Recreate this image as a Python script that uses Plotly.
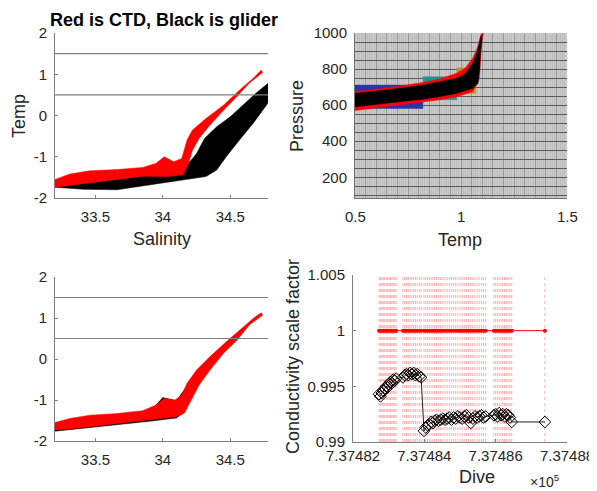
import plotly.graph_objects as go

# ---- data ----
# T-S panels: outlines of the point clouds (salinity, temp)
ctd_sal_top = [33.2, 33.31, 33.46, 33.66, 33.85, 33.95, 34.01, 34.08, 34.14, 34.18,
               34.22, 34.32, 34.45, 34.57, 34.67, 34.73,
               34.74, 34.64, 34.55, 34.45, 34.35, 34.27, 34.22, 34.19, 34.15, 34.03,
               33.85, 33.66, 33.46, 33.31, 33.2]
ctd_temp_top = [-1.55, -1.42, -1.34, -1.31, -1.26, -1.16, -1.0, -1.12, -1.04, -0.59,
                -0.35, -0.07, 0.25, 0.62, 0.90, 1.10,
                1.04, 0.78, 0.46, 0.13, -0.23, -0.55, -0.84, -1.16, -1.44, -1.48,
                -1.47, -1.55, -1.64, -1.71, -1.74]
glider_sal_top = [33.2, 33.41, 33.66, 33.9, 34.1, 34.25, 34.32, 34.40, 34.47, 34.57,
                  34.67, 34.78, 34.78, 34.69, 34.59, 34.50, 34.40, 34.31, 34.25, 34.20,
                  34.15, 34.14, 33.9, 33.66, 33.2]
glider_temp_top = [-1.74, -1.79, -1.80, -1.68, -1.58, -1.52, -1.48, -1.32, -1.0, -0.59,
                   -0.19, 0.30, 0.78, 0.54, 0.25, -0.03, -0.27, -0.55, -0.92, -1.12,
                   -1.17, -1.4, -1.43, -1.50, -1.6]

ctd_sal_bot = [33.2, 33.31, 33.46, 33.66, 33.85, 33.95, 34.01, 34.09, 34.14, 34.18,
               34.25, 34.35, 34.47, 34.60, 34.67, 34.73,
               34.74, 34.64, 34.55, 34.45, 34.35, 34.27, 34.21, 34.16, 34.10, 33.90,
               33.66, 33.46, 33.31, 33.2]
ctd_temp_bot = [-1.55, -1.45, -1.37, -1.33, -1.26, -1.12, -0.96, -1.0, -0.88, -0.59,
                -0.27, 0.06, 0.42, 0.79, 0.99, 1.13,
                1.07, 0.83, 0.46, 0.14, -0.27, -0.63, -1.0, -1.32, -1.41, -1.49,
                -1.57, -1.65, -1.71, -1.73]
glider_sal_bot = [33.2, 33.46, 33.66, 33.9, 34.0, 34.1, 34.16, 34.25, 34.35, 34.47,
                  34.6, 34.72, 34.70, 34.55, 34.45, 34.35, 34.27, 34.21, 34.16, 34.1,
                  33.9, 33.66, 33.46, 33.2]
glider_temp_bot = [-1.6, -1.45, -1.40, -1.30, -0.94, -1.02, -0.75, -0.32, 0.0, 0.38,
                   0.75, 1.08, 1.05, 0.5, 0.18, -0.22, -0.58, -0.95, -1.30, -1.44,
                   -1.52, -1.6, -1.68, -1.76]

ref_temps = [1.5, 0.5]

# Temp-pressure panel
rect_t_lo = [0.5, 0.82, 0.98]
rect_t_hi = [0.82, 0.98, 1.07]
rect_p_lo = [582, 630, 665]
rect_p_hi = [711, 757, 807]
rect_colors = ["#2d34a8", "#1f978a", "#b59a2c"]

ctd_tp_t = [0.5, 0.6, 0.7, 0.82, 0.9, 0.977, 1.02, 1.055, 1.075, 1.085, 1.092, 1.10,
            1.105, 1.098, 1.092, 1.085, 1.055, 0.977, 0.9, 0.82, 0.7, 0.6, 0.5]
ctd_tp_p = [674, 688, 704, 726, 745, 776, 805, 860, 910, 950, 985, 1000,
            1000, 940, 850, 740, 674, 646, 630, 618, 602, 588, 570]
glider_tp_t = [0.5, 0.6, 0.7, 0.82, 0.9, 0.977, 1.02, 1.055, 1.075, 1.085, 1.095,
               1.10, 1.092, 1.088, 1.08, 1.055, 0.977, 0.9, 0.82, 0.7, 0.6, 0.5]
glider_tp_p = [665, 678, 692, 711, 728, 748, 775, 832, 890, 940, 985,
               985, 900, 800, 720, 693, 665, 648, 633, 618, 605, 591]

# conductivity scale factor per dive
dives = [737482.73, 737482.77, 737482.81, 737482.85, 737482.89, 737482.93, 737482.97,
         737483.01, 737483.05, 737483.09, 737483.13, 737483.17, 737483.21,
         737483.40, 737483.45, 737483.50, 737483.55, 737483.60, 737483.65, 737483.70,
         737483.75, 737483.80, 737483.86, 737483.91,
         737483.99, 737484.04, 737484.09, 737484.14, 737484.19, 737484.24, 737484.29,
         737484.34, 737484.40, 737484.46, 737484.52, 737484.58, 737484.64, 737484.70,
         737484.76, 737484.82, 737484.88, 737484.94, 737485.00, 737485.06, 737485.12,
         737485.18, 737485.24, 737485.30, 737485.36, 737485.42, 737485.48, 737485.54,
         737485.60, 737485.66, 737485.72,
         737485.95, 737486.00, 737486.05, 737486.10, 737486.15, 737486.20, 737486.25,
         737486.30, 737486.35, 737486.40, 737486.45,
         737487.38]
scale_factor = [0.9943, 0.9941, 0.9944, 0.9946, 0.9948, 0.9950, 0.9949,
                0.9952, 0.9954, 0.9953, 0.9956, 0.9955, 0.9957,
                0.9958, 0.9960, 0.9961, 0.9960, 0.9962, 0.9961, 0.9962,
                0.9960, 0.9961, 0.9959, 0.9958,
                0.9910, 0.9913, 0.9915, 0.9916, 0.9918, 0.9917, 0.9919,
                0.9920, 0.9919, 0.9920, 0.9921, 0.9920, 0.9921, 0.9922,
                0.9920, 0.9922, 0.9921, 0.9923, 0.9922, 0.9921, 0.9923,
                0.9924, 0.9922, 0.9917, 0.9921, 0.9923, 0.9922, 0.9923,
                0.9924, 0.9922, 0.9923,
                0.9924, 0.9925, 0.9923, 0.9926, 0.9924, 0.9925, 0.9923,
                0.9925, 0.9924, 0.9922, 0.9918,
                0.9918]
ctd_factor = [1.0] * len(dives)

sal_ticks = [33.5, 34, 34.5]
temp_ticks = [-2, -1, 0, 1, 2]
tp_temp_ticks = [0.5, 1, 1.5]
pres_ticks = [200, 400, 600, 800, 1000]
factor_ticks = [0.99, 0.995, 1.0, 1.005]
factor_ticktext = ["0.99", "0.995", "1", "1.005"]
dive_ticks = [737482, 737484, 737486, 737488]
dive_ticktext = ["7.37482", "7.37484", "7.37486", "7.37488"]

W, H = 597, 491
OFF = 8  # the page body margin shifts the plot by this much
FONT = "Liberation Sans, Arial, sans-serif"
TXT = "#262626"


def px_x(a, b):
    return [(a - OFF) / W, (b - OFF) / W]


def px_y(top, bot):
    return [1 - (bot - OFF) / H, 1 - (top - OFF) / H]


def pxx(a):
    return (a - OFF) / W


def pxy(b):
    return 1 - (b - OFF) / H


def blob(x, y, color, xa, ya):
    return go.Scatter(x=x, y=y, fill="toself", mode="lines", line=dict(width=0.5, color=color),
                      fillcolor=color, xaxis=xa, yaxis=ya, hoverinfo="skip")


def label(text, x, y, size=18, angle=0, bold=False, color=TXT):
    if bold:
        text = "<b>" + text + "</b>"
    fig.add_annotation(text=text, x=pxx(x), y=pxy(y), xref="paper", yref="paper",
                       xanchor="center", yanchor="middle", showarrow=False,
                       textangle=angle, font=dict(family=FONT, size=size, color=color))


fig = go.Figure()

# top left: glider raw vs CTD
fig.add_trace(blob(glider_sal_top, glider_temp_top, "black", "x", "y"))
fig.add_trace(blob(ctd_sal_top, ctd_temp_top, "#ff0000", "x", "y"))
# bottom left: glider corrected vs CTD
fig.add_trace(blob(glider_sal_bot, glider_temp_bot, "black", "x3", "y3"))
fig.add_trace(blob(ctd_sal_bot, ctd_temp_bot, "#ff0000", "x3", "y3"))

for xa, ya in [("x", "y"), ("x3", "y3")]:
    for t in ref_temps:
        fig.add_shape(type="line", xref=xa + " domain", yref=ya,
                      x0=0, x1=1, y0=t, y1=t, line=dict(color="#7f7f7f", width=1.2))

# top right: temp vs pressure
for t0, t1, p0, p1, c in zip(rect_t_lo, rect_t_hi, rect_p_lo, rect_p_hi, rect_colors):
    fig.add_trace(blob([t0, t1, t1, t0], [p0, p0, p1, p1], c, "x2", "y2"))
fig.add_trace(blob(ctd_tp_t, ctd_tp_p, "#ff0000", "x2", "y2"))
fig.add_trace(blob(glider_tp_t, glider_tp_p, "black", "x2", "y2"))

# bottom right: conductivity scale factor
for d in dives:
    fig.add_shape(type="line", xref="x4", yref="y4 domain", x0=d, x1=d, y0=0, y1=1,
                  line=dict(color="rgba(255,70,70,0.45)", width=1, dash="dot"), layer="below")
fig.add_trace(go.Scatter(x=dives, y=ctd_factor, mode="lines+markers",
                         line=dict(color="#ff0000", width=1),
                         marker=dict(color="#ff0000", size=4),
                         xaxis="x4", yaxis="y4"))
fig.add_trace(go.Scatter(x=dives, y=scale_factor, mode="lines+markers",
                         line=dict(color="#222222", width=1),
                         marker=dict(symbol="diamond-open", color="black", size=9,
                                     line=dict(width=1)),
                         xaxis="x4", yaxis="y4"))

tickfont = dict(family=FONT, size=15, color=TXT)
common = dict(showline=True, linecolor="#808080", linewidth=1, ticks="inside",
              ticklen=3, tickcolor="#808080", tickfont=tickfont, zeroline=False,
              showgrid=False, automargin=False)
xcommon = dict(common, ticklabelstandoff=5)
ycommon = dict(common, ticklabelstandoff=4)

# pressure grid: dark line every 50, labels only on the 200s
pres_grid = list(range(100, 1001, 50))
pres_text = [str(p) if p in pres_ticks else "" for p in pres_grid]

fig.update_layout(
    width=W, height=H, margin=dict(l=0, r=0, t=0, b=0),
    paper_bgcolor="white", plot_bgcolor="white", showlegend=False,
    xaxis=dict(domain=px_x(55, 268), range=[33.2, 34.78], anchor="y",
               tickvals=sal_ticks, ticktext=["33.5", "34", "34.5"], **xcommon),
    yaxis=dict(domain=px_y(33, 198), range=[-2, 2], anchor="x",
               tickvals=temp_ticks, ticktext=["-2", "-1", "0", "1", "2"], **ycommon),
    xaxis3=dict(domain=px_x(55, 268), range=[33.2, 34.78], anchor="y3",
                tickvals=sal_ticks, ticktext=["33.5", "34", "34.5"], **xcommon),
    yaxis3=dict(domain=px_y(277, 441), range=[-2, 2], anchor="x3",
                tickvals=temp_ticks, ticktext=["-2", "-1", "0", "1", "2"], **ycommon),
    xaxis2=dict(domain=px_x(355, 567), range=[0.5, 1.5], anchor="y2",
                tickmode="linear", tick0=0.5, dtick=0.05,
                showline=True, linecolor="#707070", ticks="", showticklabels=False,
                zeroline=False, showgrid=True, gridcolor="#9a9a9a", gridwidth=1,
                automargin=False,
                minor=dict(dtick=0.01, showgrid=True, gridcolor="#bdbdbd", gridwidth=1)),
    yaxis2=dict(domain=px_y(33, 198), range=[85, 1000], anchor="x2",
                tickmode="array", tickvals=pres_grid, ticktext=pres_text,
                showline=True, linecolor="#707070", ticks="", tickfont=tickfont,
                ticklabelstandoff=4,
                zeroline=False, showgrid=True, gridcolor="#5a5a5a", gridwidth=1,
                automargin=False),
    xaxis4=dict(domain=px_x(353, 567), range=[737482, 737488], anchor="y4",
                tickvals=dive_ticks, ticktext=dive_ticktext, **common),
    yaxis4=dict(domain=px_y(275, 442), range=[0.99, 1.005], anchor="x4",
                tickvals=factor_ticks, ticktext=factor_ticktext, **ycommon),
)

# tick labels for the temp axis of the pressure panel (grid axis has none)
for t in tp_temp_ticks:
    fig.add_annotation(text=f"{t:g}", x=t, xref="x2", y=pxy(216), yref="paper",
                       xanchor="center", yanchor="middle",
                       showarrow=False, font=tickfont)

# light gray background for the temp/pressure panel
fig.add_shape(type="rect", xref="x2 domain", yref="y2 domain", x0=0, x1=1, y0=0, y1=1,
              fillcolor="#cacaca", line=dict(width=0), layer="below")

label("Red is CTD, Black is glider", 164, 20, size=18, bold=True, color="black")
label("Temp", 19, 116, angle=-90)
label("Salinity", 162, 239)
label("Pressure", 297, 116, angle=-90)
label("Temp", 460, 240)
label("Conductivity scale factor", 293, 357, angle=-90)
label("Dive", 477, 477)
label("×10<sup>5</sup>", 545, 481, size=14)

fig.write_html("out.html")
